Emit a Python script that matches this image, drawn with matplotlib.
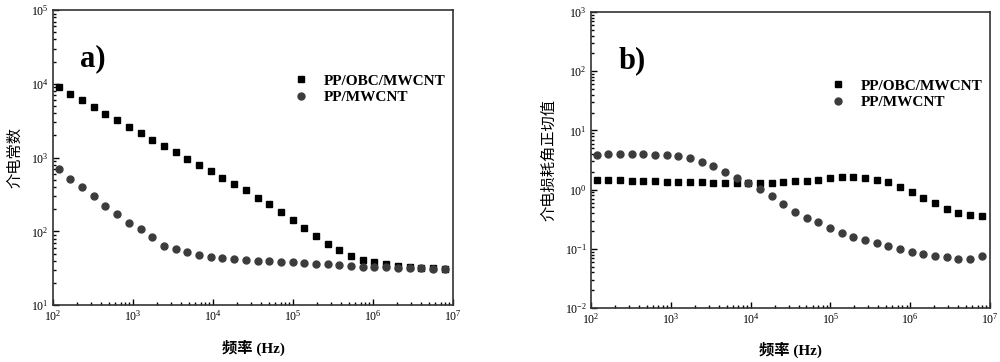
import matplotlib
matplotlib.use('Agg')
import matplotlib.pyplot as plt
from matplotlib.ticker import LogLocator, LogFormatterMathtext, NullFormatter

plt.rcParams['font.family'] = ['Liberation Serif', 'Noto Sans CJK SC', 'DejaVu Sans']
plt.rcParams['mathtext.fontset'] = 'custom'
plt.rcParams['mathtext.rm'] = 'Liberation Serif:bold'
plt.rcParams['mathtext.it'] = 'Liberation Serif:bold'
plt.rcParams['mathtext.bf'] = 'Liberation Serif:bold'

# frequency (Hz)
freq = [118, 165, 231, 324, 453, 635, 889, 1245, 1743, 2440, 3416, 4783, 6696,
        9375, 13125, 18375, 25725, 36015, 50420, 70590, 98826, 1.38e5, 1.94e5,
        2.71e5, 3.80e5, 5.31e5, 7.44e5, 1.04e6, 1.46e6, 2.04e6, 2.86e6, 4.0e6,
        5.6e6, 7.84e6]

# a) dielectric constant
eps_obc = [8940, 7340, 5960, 4890, 3930, 3220, 2620, 2150, 1746, 1432, 1175, 964,
           800, 656, 538, 442, 359, 288, 232, 182, 142, 110, 86, 68, 55.7, 47.1,
           41.6, 38.7, 36, 34.2, 33.1, 32.4, 31.7, 31.1]
eps_pp = [698, 511, 394, 304, 222, 173, 132, 107, 82.7, 64.4, 56.9, 51.8, 47.6,
          45.2, 43.4, 42, 41.2, 40.3, 39.5, 38.7, 37.9, 37.1, 36.3, 36, 34.9, 34.2,
          33.4, 33.1, 32.7, 32.4, 32.1, 31.7, 31.4, 31.1]

# b) loss tangent
tan_obc = [1.47, 1.45, 1.43, 1.41, 1.40, 1.38, 1.36, 1.36, 1.34, 1.33, 1.31, 1.31,
           1.29, 1.28, 1.28, 1.31, 1.33, 1.38, 1.41, 1.47, 1.55, 1.61, 1.61, 1.59,
           1.47, 1.33, 1.12, 0.91, 0.73, 0.59, 0.47, 0.40, 0.37, 0.36]
tan_pp = [3.89, 4.0, 4.0, 3.94, 4.0, 3.89, 3.79, 3.65, 3.37, 2.89, 2.47, 2.01, 1.57,
          1.28, 1.04, 0.789, 0.563, 0.418, 0.327, 0.280, 0.227, 0.187, 0.160, 0.141,
          0.124, 0.111, 0.100, 0.0895, 0.0828, 0.0746, 0.0727, 0.0673, 0.0681, 0.0755]

labels = ['PP/OBC/MWCNT', 'PP/MWCNT']

fig = plt.figure(figsize=(10, 3.62), dpi=100)
ax1 = fig.add_axes([0.053, 0.157, 0.400, 0.815])
ax2 = fig.add_axes([0.591, 0.149, 0.399, 0.818])


def style(ax, ylim, ylabel, tag, tag_y, leg_y):
    ax.set_xscale('log')
    ax.set_yscale('log')
    ax.set_xlim(1e2, 1e7)
    ax.set_ylim(*ylim)
    for ax_ in (ax.xaxis, ax.yaxis):
        ax_.set_major_locator(LogLocator(base=10, numticks=20))
        ax_.set_minor_locator(LogLocator(base=10, subs=range(2, 10), numticks=20))
        ax_.set_major_formatter(LogFormatterMathtext())
        ax_.set_minor_formatter(NullFormatter())
    ax.tick_params(which='both', direction='in', top=False, right=False,
                   labelsize=8.5, width=1, pad=3)
    ax.tick_params(which='major', length=4)
    ax.tick_params(which='minor', length=2.5)
    for s in ax.spines.values():
        s.set_linewidth(1.2)
        s.set_color('#333333')
    ax.set_xlabel('频率 (Hz)', fontsize=11, fontweight='bold', labelpad=11)
    ax.set_ylabel(ylabel, fontsize=11, labelpad=6)
    ax.text(0.068, tag_y, tag, transform=ax.transAxes, fontsize=22,
            fontweight='bold')
    ax.legend(loc='upper right', bbox_to_anchor=(1.015, leg_y), frameon=False,
              prop={'size': 11, 'weight': 'bold'}, handletextpad=1.0,
              labelspacing=0.2, handlelength=1.0)


ax1.plot(freq, eps_obc, 's', color='black', markersize=4.4, label=labels[0])
ax1.plot(freq, eps_pp, 'o', color='#3c3c3c', markersize=5, label=labels[1])
style(ax1, (1e1, 1e5), '介电常数', 'a)', 0.81, 0.83)

ax2.plot(freq, tan_obc, 's', color='black', markersize=4.4, label=labels[0])
ax2.plot(freq, tan_pp, 'o', color='#3c3c3c', markersize=5, label=labels[1])
style(ax2, (1e-2, 1e3), '介电损耗角正切值', 'b)', 0.81, 0.82)

fig.savefig('out.png', dpi=100)
